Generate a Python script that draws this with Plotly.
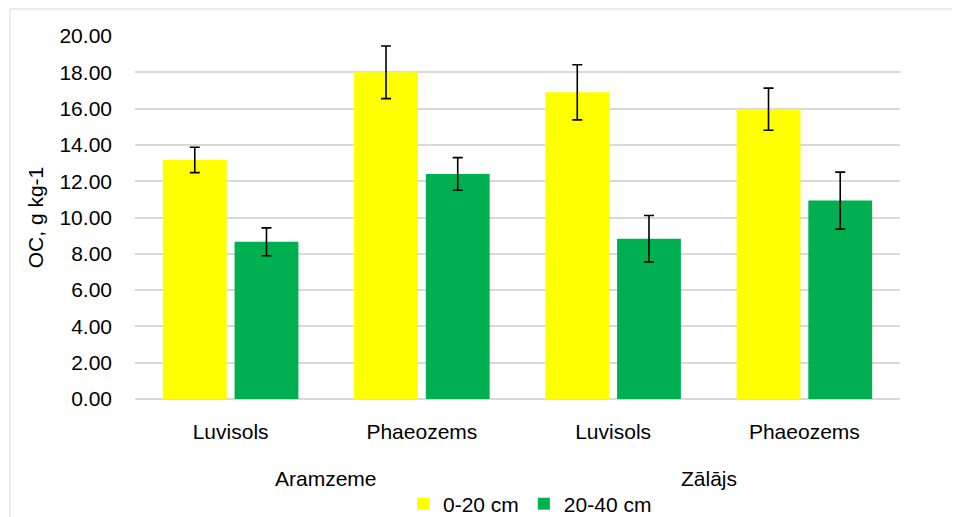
import plotly.graph_objects as go

groups = ["Aramzeme", "Aramzeme", "Zālājs", "Zālājs"]
soils = ["Luvisols", "Phaeozems", "Luvisols", "Phaeozems"]
series_names = ["0-20 cm", "20-40 cm"]
vals_0_20 = [13.17, 18.0, 16.9, 15.97]
err_0_20 = [0.70, 1.45, 1.52, 1.16]
vals_20_40 = [8.66, 12.40, 8.83, 10.93]
err_20_40 = [0.77, 0.90, 1.28, 1.57]
y_ticks = [0, 2, 4, 6, 8, 10, 12, 14, 16, 18, 20]

colors = ["#FFFF00", "#00B050"]
FONT = "Liberation Sans"
FS = 21

# page body has an 8px default margin, so the figure starts at (8, 8) in the window
OFF = 8
W, H = 960 - OFF, 517 - OFF
PL, PR, PT, PB = 135, 900, 36, 399  # plot area in window pixels
PW, PH = PR - PL, PB - PT


def py(win_y):
    return (PB - win_y) / PH


def px(win_x):
    return (win_x - PL) / PW


def cy(win_y):
    return 1 - (win_y - OFF) / H


def cx(win_x):
    return (win_x - OFF) / W


cats = [g + " " + s for g, s in zip(groups, soils)]

fig = go.Figure()
for name, vals, errs, col in zip(series_names, [vals_0_20, vals_20_40], [err_0_20, err_20_40], colors):
    fig.add_trace(go.Bar(
        x=cats, y=vals, name=name, marker_color=col,
        marker_line_width=0,
        error_y=dict(type="data", array=errs, visible=True, color="black", thickness=1.6, width=5),
    ))

annotations = []
seen = []
for g in groups:
    if g not in seen:
        seen.append(g)
for g in seen:
    idx = [i for i, gg in enumerate(groups) if gg == g]
    annotations.append(dict(x=sum(idx) / len(idx), xref="x", y=py(478), yref="paper",
                            text=g, showarrow=False, yanchor="middle",
                            font=dict(size=FS, family=FONT)))

fig.update_layout(
    width=W, height=H,
    margin=dict(l=PL - OFF, r=960 - PR, t=PT - OFF, b=517 - PB),
    paper_bgcolor="white", plot_bgcolor="white",
    barmode="group", bargap=0.25, bargroupgap=0.11,
    font=dict(family=FONT, size=FS, color="#000000"),
    showlegend=True,
    legend=dict(orientation="h", xref="container", yref="container",
                x=cx(530), xanchor="center", y=cy(504), yanchor="middle",
                bgcolor="rgba(0,0,0,0)",
                font=dict(size=FS), itemwidth=30, traceorder="normal"),
    xaxis=dict(type="category", tickvals=cats, ticktext=soils, showgrid=False, showline=False,
               ticks="", tickfont=dict(size=FS), ticklabelstandoff=18, automargin=False),
    yaxis=dict(range=[0, 20], tickvals=y_ticks, tickformat=".2f", showgrid=True,
               gridcolor="#d9d9d9", gridwidth=1.5, zeroline=True, zerolinecolor="#d9d9d9",
               zerolinewidth=1.5, ticks="", ticklabelstandoff=22, automargin=False,
               tickfont=dict(size=FS),
               title=dict(text="OC, g kg-1", font=dict(size=FS), standoff=10)),
    annotations=annotations,
    shapes=[dict(type="rect", xref="paper", yref="paper",
                 x0=px(10), x1=px(975), y0=py(530), y1=py(9),
                 line=dict(color="#d9d9d9", width=1), fillcolor="rgba(0,0,0,0)", layer="below")],
)

fig.write_html("out.html")
